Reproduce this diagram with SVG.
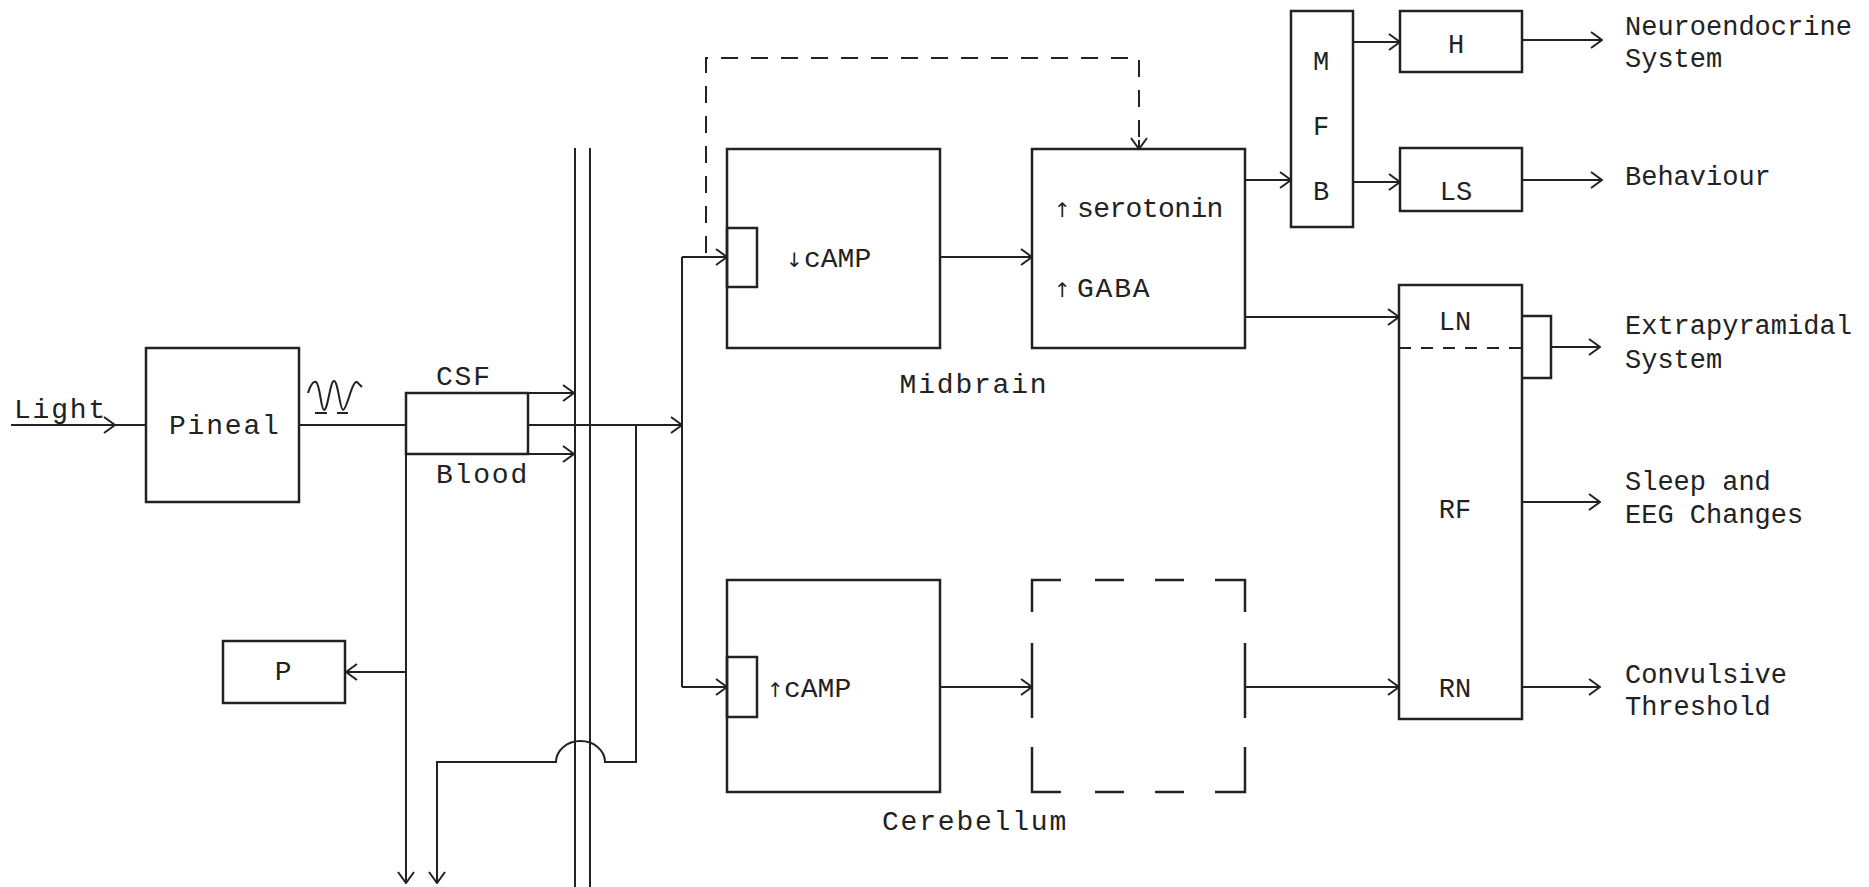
<svg xmlns="http://www.w3.org/2000/svg" width="1869" height="887" viewBox="0 0 1869 887">
<style>
.ln{stroke:#222;stroke-width:2;fill:none}
.dl{stroke:#222;stroke-width:2;fill:none;stroke-dasharray:17 13}
.bx{stroke:#222;stroke-width:2.5;fill:none}
.t{font-family:"Liberation Mono","Courier New",monospace;font-size:28px;fill:#222;letter-spacing:1.8px}
.s{font-family:"Liberation Mono","Courier New",monospace;font-size:28px;fill:#222;letter-spacing:0px}
.r{font-family:"Liberation Mono","Courier New",monospace;font-size:27px;fill:#222}
.a{font-family:"DejaVu Sans",sans-serif;font-size:20px;fill:#222}
.m{text-anchor:middle}
</style>
<defs>
<marker id="ah" viewBox="-13 -10 14 20" refX="0" refY="0" markerWidth="14" markerHeight="20" markerUnits="userSpaceOnUse" orient="auto">
<path d="M-11,-8 L0,0 L-11,8" fill="none" stroke="#222" stroke-width="2"/>
</marker>
</defs>
<rect width="1869" height="887" fill="#fff"/>

<g id="connectors">
<path class="ln" d="M11,425 H146"/>
<path class="ln" d="M104,417 L115,425 L104,433"/>
<path class="ln" d="M299,425 H406"/>
<path class="ln" d="M406,393 H574" marker-end="url(#ah)"/>
<path class="ln" d="M406,454 H574" marker-end="url(#ah)"/>
<path class="ln" d="M406,393 V883" marker-end="url(#ah)"/>
<path class="ln" d="M406,672 H346" marker-end="url(#ah)"/>
<path class="ln" d="M528,425 H682" marker-end="url(#ah)"/>
<path class="ln" d="M636,425 V762 H605 A24.5,21 0 0 0 556,762 H437 V883" marker-end="url(#ah)"/>
<path class="ln" d="M682,257 V687"/>
<path class="ln" d="M682,257 H727" marker-end="url(#ah)"/>
<path class="ln" d="M682,687 H727" marker-end="url(#ah)"/>
<path class="dl" d="M706,253 V58 H1139 V149"/>
<path class="ln" d="M1139,140 V149" marker-end="url(#ah)"/>
<path class="ln" d="M940,257 H1032" marker-end="url(#ah)"/>
<path class="ln" d="M1245,180 H1291" marker-end="url(#ah)"/>
<path class="ln" d="M1353,42 H1400" marker-end="url(#ah)"/>
<path class="ln" d="M1353,182 H1400" marker-end="url(#ah)"/>
<path class="ln" d="M1522,40 H1602" marker-end="url(#ah)"/>
<path class="ln" d="M1522,180 H1602" marker-end="url(#ah)"/>
<path class="ln" d="M1245,317 H1399" marker-end="url(#ah)"/>
<path class="ln" d="M1551,347 H1600" marker-end="url(#ah)"/>
<path class="ln" d="M1522,502 H1600" marker-end="url(#ah)"/>
<path class="ln" d="M940,687 H1032" marker-end="url(#ah)"/>
<path class="ln" d="M1245,687 H1399" marker-end="url(#ah)"/>
<path class="ln" d="M1522,687 H1600" marker-end="url(#ah)"/>
</g>

<g id="barrier">
<path class="ln" d="M575,148 V887"/>
<path class="ln" d="M590,148 V887"/>
</g>

<g id="light">
<text class="t" x="14" y="418">Light</text>
</g>

<g id="pineal">
<rect class="bx" x="146" y="348" width="153" height="154"/>
<text class="t" x="169" y="434">Pineal</text>
</g>

<g id="rhythm">
<path class="ln" stroke-width="2.5" d="M308,393 C310,386 313,381 316,382 C320,384 321,410 324,410 C328,410 330,381 334,381 C338,381 340,410 343,410 C347,410 352,380 357,382 L362,387"/>
<path class="ln" stroke-width="2.5" d="M315,413 H327 M337,413 H348"/>
</g>

<g id="csf-blood">
<rect class="bx" x="406" y="393" width="122" height="61"/>
<text class="t" x="436" y="385">CSF</text>
<text class="t" x="436" y="483">Blood</text>
</g>

<g id="p">
<rect class="bx" x="223" y="641" width="122" height="62"/>
<text class="t m" x="284" y="680">P</text>
</g>

<g id="midbrain-camp">
<rect class="bx" x="727" y="149" width="213" height="199"/>
<rect class="bx" x="727" y="228" width="30" height="59"/>
<text class="a" x="786" y="267">↓</text>
<text class="s" x="804" y="267">cAMP</text>
</g>

<g id="midbrain-transmitters">
<rect class="bx" x="1032" y="149" width="213" height="199"/>
<text class="a" x="1054" y="217">↑</text>
<text class="s" x="1077" y="217" style="letter-spacing:-0.6px">serotonin</text>
<text class="a" x="1054" y="297">↑</text>
<text class="t" x="1077" y="297">GABA</text>
</g>

<g id="midbrain-label">
<text class="t m" x="974" y="393">Midbrain</text>
</g>

<g id="cerebellum-camp">
<rect class="bx" x="727" y="580" width="213" height="212"/>
<rect class="bx" x="727" y="657" width="30" height="60"/>
<text class="a" x="767" y="697">↑</text>
<text class="s" x="784" y="697">cAMP</text>
</g>

<g id="cerebellum-dashed">
<path class="bx" d="M1032,612 V580 H1061 M1095,580 H1124 M1155,580 H1184 M1215,580 H1245 V612 M1245,643 V718 M1245,747 V792 H1215 M1184,792 H1155 M1124,792 H1095 M1061,792 H1032 V747 M1032,718 V643"/>
</g>

<g id="cerebellum-label">
<text class="t m" x="975" y="830">Cerebellum</text>
</g>

<g id="mfb">
<rect class="bx" x="1291" y="11" width="62" height="216"/>
<text class="r m" x="1321" y="70">M</text>
<text class="r m" x="1321" y="135">F</text>
<text class="r m" x="1321" y="200">B</text>
</g>

<g id="h">
<rect class="bx" x="1400" y="11" width="122" height="61"/>
<text class="r m" x="1456" y="53">H</text>
</g>

<g id="ls">
<rect class="bx" x="1400" y="148" width="122" height="63"/>
<text class="r m" x="1456" y="200">LS</text>
</g>

<g id="brainstem">
<rect class="bx" x="1399" y="285" width="123" height="434"/>
<path class="ln" stroke-dasharray="12 10" d="M1399,348 H1522"/>
<path class="bx" d="M1522,316 H1551 V378 H1522"/>
<text class="r m" x="1455" y="330">LN</text>
<text class="r m" x="1455" y="518">RF</text>
<text class="r m" x="1455" y="697">RN</text>
</g>

<g id="outputs">
<text class="r" x="1625" y="35">Neuroendocrine</text>
<text class="r" x="1625" y="67">System</text>
<text class="r" x="1625" y="185">Behaviour</text>
<text class="r" x="1625" y="334">Extrapyramidal</text>
<text class="r" x="1625" y="368">System</text>
<text class="r" x="1625" y="490">Sleep and</text>
<text class="r" x="1625" y="523">EEG Changes</text>
<text class="r" x="1625" y="683">Convulsive</text>
<text class="r" x="1625" y="715">Threshold</text>
</g>
</svg>
